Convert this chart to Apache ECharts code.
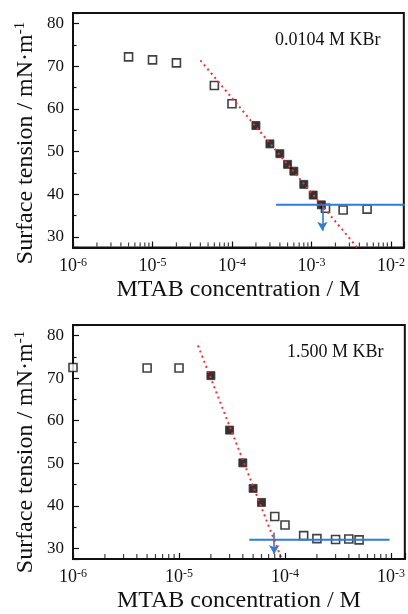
<!DOCTYPE html>
<html>
<head>
<meta charset="utf-8">
<script src="https://cdn.jsdelivr.net/npm/echarts@6/dist/echarts.min.js"></script>
<style>
  html, body { margin: 0; padding: 0; background: #fff; }
  #main { width: 408px; height: 614px; }
</style>
</head>
<body>
<div id="main"></div>
<script>
// panel 1: 0.0104 M KBr
var topOpenX = [5e-6, 1e-5, 2e-5, 6e-5, 1e-4, 1.5e-3, 2.5e-3, 5e-3];
var topOpenY = [72.2, 71.5, 70.8, 65.5, 61.2, 36.7, 36.3, 36.5];
var topFillX = [2e-4, 3e-4, 4e-4, 5e-4, 6e-4, 8e-4, 1.05e-3, 1.33e-3];
var topFillY = [56.1, 51.8, 49.5, 47.0, 45.4, 42.3, 39.8, 37.5];
var topFit = [[4.0e-5, 71.4], [3.76e-3, 27.5]];
var topCmc = [[3.58e-4, 37.5], [1.5e-2, 37.5]];
var topArrow = [[1.37e-3, 37.5], [1.37e-3, 31.4]];

// panel 2: 1.500 M KBr
var botOpenX = [1e-6, 5e-6, 1e-5, 8e-5, 1e-4, 1.5e-4, 2e-4, 3e-4, 4e-4, 5e-4];
var botOpenY = [72.5, 72.4, 72.4, 37.5, 35.5, 33.0, 32.3, 32.1, 32.2, 32.0];
var botFillX = [2e-5, 3e-5, 4e-5, 5e-5, 6e-5];
var botFillY = [70.6, 57.8, 50.1, 44.1, 40.8];
var botFit = [[1.51e-5, 77.7], [9.3e-5, 27.5]];
var botCmc = [[4.6e-5, 32.0], [9.7e-4, 32.0]];
var botArrow = [[7.9e-5, 33.7], [7.9e-5, 28.7]];

var yMin = 27.5, yMax = 82.5;
var serif = "'Liberation Serif', 'Times New Roman', serif";
var blue = "#2f7bd8";
var ink = "#111";

function pairs(xs, ys) {
  return xs.map(function (x, i) { return [x, ys[i]]; });
}

// log minor ticks (2..9 per decade), sitting on the bottom axis
function minorTicks(lo, hi) {
  var out = [];
  for (var e = lo; e < hi; e++) {
    for (var k = 2; k <= 9; k++) out.push([k * Math.pow(10, e), yMin]);
  }
  return out;
}

function xAxis(idx, max) {
  return {
    type: "log",
    logBase: 10,
    gridIndex: idx,
    min: 1e-6,
    max: max,
    name: "MTAB concentration / M",
    nameLocation: "middle",
    nameGap: 30,
    nameTextStyle: { fontFamily: serif, fontSize: 24, color: ink },
    axisLine: { lineStyle: { color: ink, width: 2 } },
    axisTick: { inside: true, length: 6, lineStyle: { color: ink, width: 1.2 } },
    splitLine: { show: false },
    axisLabel: {
      margin: 9,
      fontFamily: serif,
      fontSize: 18,
      color: ink,
      formatter: function (v) {
        var l = Math.log10(v), e = Math.round(l);
        if (Math.abs(l - e) > 1e-6) return "";
        return "{b|10}{sup|" + e + "}";
      },
      rich: {
        b: { fontFamily: serif, fontSize: 18, color: ink, lineHeight: 19 },
        sup: { fontFamily: serif, fontSize: 12, color: ink, verticalAlign: "top", lineHeight: 19 }
      }
    }
  };
}

function yAxis(idx) {
  return {
    type: "value",
    gridIndex: idx,
    min: yMin,
    max: yMax,
    splitNumber: 5,
    axisLine: { show: true, lineStyle: { color: ink, width: 2 } },
    axisTick: { inside: true, length: 6, lineStyle: { color: ink, width: 1.2 } },
    minorTick: { show: true, splitNumber: 2, length: 3.5, lineStyle: { color: ink, width: 1.2 } },
    splitLine: { show: false },
    axisLabel: {
      margin: 9,
      fontFamily: serif,
      fontSize: 17,
      color: ink,
      formatter: function (v) { return v % 10 === 0 ? String(v) : ""; }
    }
  };
}

function panel(idx, openPts, fillPts, fit, cmc, arrow, decLo, decHi) {
  return [
    {
      type: "scatter",
      xAxisIndex: idx, yAxisIndex: idx,
      silent: true,
      clip: false,
      symbol: "rect",
      symbolSize: [1.2, 4],
      symbolOffset: [0, -3],
      itemStyle: { color: ink },
      data: minorTicks(decLo, decHi),
      z: 10
    },
    {
      type: "scatter",
      xAxisIndex: idx, yAxisIndex: idx,
      symbol: "rect", symbolSize: 8,
      clip: true,
      itemStyle: { color: "#fff", borderColor: ink, borderWidth: 1.6 },
      data: openPts,
      z: 3
    },
    {
      type: "scatter",
      xAxisIndex: idx, yAxisIndex: idx,
      symbol: "rect", symbolSize: 8,
      itemStyle: { color: "#000", borderColor: "#333", borderWidth: 1 },
      data: fillPts,
      z: 3
    },
    {
      type: "line",
      xAxisIndex: idx, yAxisIndex: idx,
      showSymbol: false, symbol: "none",
      clip: true,
      lineStyle: { color: "#ff2b2b", width: 2, type: [2, 3.5], cap: "butt" },
      data: fit,
      z: 5
    },
    {
      type: "line",
      xAxisIndex: idx, yAxisIndex: idx,
      showSymbol: false, symbol: "none",
      clip: true,
      lineStyle: { color: blue, width: 2 },
      data: cmc,
      z: 4,
      markLine: {
        silent: true,
        symbol: ["none", "arrow"],
        symbolSize: [8, 9],
        label: { show: false },
        lineStyle: { color: blue, width: 1.6, type: "solid" },
        data: [[{ coord: arrow[0] }, { coord: arrow[1] }]]
      }
    }
  ];
}

function yTitle(cy) {
  return {
    type: "text",
    x: 26, y: cy,
    rotation: Math.PI / 2,
    style: {
      text: "{n|Surface tension / mN·m}{sup|-1}",
      align: "center",
      verticalAlign: "middle",
      rich: {
        n: { fontFamily: serif, fontSize: 24, fill: ink, lineHeight: 26 },
        sup: { fontFamily: serif, fontSize: 15, fill: ink, verticalAlign: "top", lineHeight: 26 }
      }
    }
  };
}

var myChart = echarts.init(document.getElementById("main"), null, { renderer: "canvas" });

option = {
  backgroundColor: "#fff",
  animation: false,
  grid: [
    { left: 73, top: 13, width: 333, height: 234.5, show: true, borderColor: ink, borderWidth: 2, backgroundColor: "transparent" },
    { left: 73, top: 325, width: 334, height: 235, show: true, borderColor: ink, borderWidth: 2, backgroundColor: "transparent" }
  ],
  xAxis: [xAxis(0, 1.45e-2), xAxis(1, 1.35e-3)],
  yAxis: [yAxis(0), yAxis(1)],
  graphic: [
    yTitle(143),
    yTitle(452),
    { type: "text", left: 275, top: 31, style: { text: "0.0104 M KBr", fontFamily: serif, fontSize: 18, fill: ink } },
    { type: "text", left: 287, top: 343, style: { text: "1.500 M KBr", fontFamily: serif, fontSize: 18, fill: ink } }
  ],
  series: [].concat(
    panel(0, pairs(topOpenX, topOpenY), pairs(topFillX, topFillY), topFit, topCmc, topArrow, -6, -2),
    panel(1, pairs(botOpenX, botOpenY), pairs(botFillX, botFillY), botFit, botCmc, botArrow, -6, -3)
  )
};

myChart.setOption(option);
</script>
</body>
</html>
